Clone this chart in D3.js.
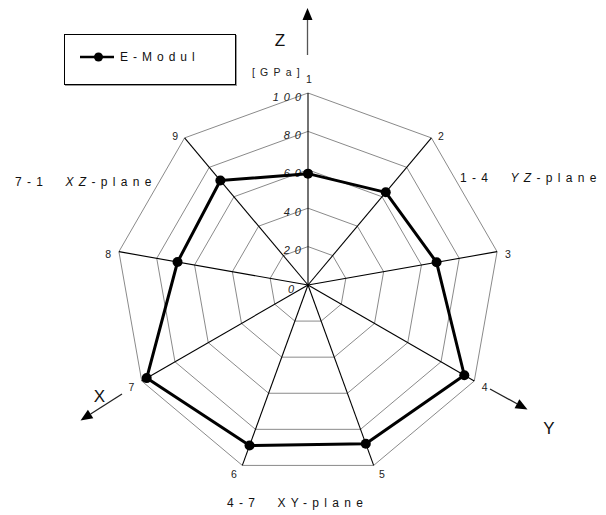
<!DOCTYPE html>
<html>
<head>
<meta charset="utf-8">
<script src="https://cdn.jsdelivr.net/npm/d3@7"></script>
<style>
  html, body { margin: 0; padding: 0; background: #fff; }
  svg { display: block; font-family: "Liberation Sans", Arial, sans-serif; }
</style>
</head>
<body>
<svg id="chart" width="606" height="515"></svg>
<script>
// Measurement directions (spokes) of the radar chart
const directions = ["1", "2", "3", "4", "5", "6", "7", "8", "9"];
// Young's modulus per direction, GPa
const eModul = [58, 63, 68, 94, 88, 89, 97, 69, 71];
// Radial tick values
const radialTicks = [0, 20, 40, 60, 80, 100];
const seriesName = "E-Modul";
const unitLabel = "[GPa]";

const svg = d3.select("#chart");
const cx = 308, cy = 285, R = 192;

const r = d3.scaleLinear().domain([0, 100]).range([0, R]);
const angle = d3.scaleLinear().domain([0, directions.length]).range([0, 2 * Math.PI]);

const pt = (i, v) => {
  const a = angle(i);
  return [cx + r(v) * Math.sin(a), cy - r(v) * Math.cos(a)];
};

// Grid rings
const ring = d3.line();
svg.append("g").selectAll("path")
  .data(radialTicks.filter(t => t > 0))
  .join("path")
  .attr("d", t => ring(directions.map((_, i) => pt(i, t))) + "Z")
  .attr("fill", "none")
  .attr("stroke", "#8a8a8a")
  .attr("stroke-width", 1);

// Spokes
svg.append("g").selectAll("line")
  .data(directions)
  .join("line")
  .attr("x1", cx).attr("y1", cy)
  .attr("x2", (d, i) => pt(i, 100)[0])
  .attr("y2", (d, i) => pt(i, 100)[1])
  .attr("stroke", "#000")
  .attr("stroke-width", 1.1);

// Radial tick labels
const tickSpacing = 5;
svg.append("g").selectAll("text")
  .data(radialTicks)
  .join("text")
  .attr("x", t => (t === 0 ? 294 : 301) + tickSpacing)
  .attr("y", t => cy - r(t) + 7.5)
  .attr("text-anchor", "end")
  .style("font-size", "11px")
  .style("font-style", "italic")
  .style("letter-spacing", tickSpacing + "px")
  .attr("fill", "#222")
  .text(t => t);

// Unit label
svg.append("text")
  .attr("x", 252).attr("y", 76)
  .style("font-size", "10.5px")
  .style("letter-spacing", "5.2px")
  .attr("fill", "#222")
  .text(unitLabel);

// Direction labels around the outer ring
svg.append("g").selectAll("text")
  .data(directions)
  .join("text")
  .each(function (d, i) {
    const a = angle(i);
    const [vx, vy] = pt(i, 100);
    const s = Math.sin(a), c = Math.cos(a);
    let x, y, anchor;
    if (i === 0) { x = vx + 1; y = vy - 10; anchor = "middle"; }
    else {
      const off = 4 + 4 * Math.abs(s);
      x = s > 0 ? vx + off : vx - off;
      anchor = s > 0 ? "start" : "end";
      y = vy + 7 - 6 * c;
    }
    d3.select(this).attr("x", x).attr("y", y).attr("text-anchor", anchor);
  })
  .style("font-size", "10.5px")
  .attr("fill", "#222")
  .text(d => d);

// Data series
const line = d3.line().curve(d3.curveLinearClosed);
svg.append("path")
  .attr("d", line(eModul.map((v, i) => pt(i, v))))
  .attr("fill", "none")
  .attr("stroke", "#000")
  .attr("stroke-width", 3)
  .attr("stroke-linejoin", "round");

svg.append("g").selectAll("circle")
  .data(eModul)
  .join("circle")
  .attr("cx", (v, i) => pt(i, v)[0])
  .attr("cy", (v, i) => pt(i, v)[1])
  .attr("r", 5)
  .attr("fill", "#000");

// Coordinate arrows (Z up along spoke 1, Y along spoke 4, X along spoke 7)
function arrow(x1, y1, x2, y2, color) {
  const dx = x2 - x1, dy = y2 - y1, L = Math.hypot(dx, dy);
  const ux = dx / L, uy = dy / L, hl = 12, hw = 5;
  const bx = x2 - ux * hl, by = y2 - uy * hl;
  svg.append("line")
    .attr("x1", x1).attr("y1", y1).attr("x2", bx).attr("y2", by)
    .attr("stroke", color).attr("stroke-width", 1.3);
  svg.append("path")
    .attr("d", `M${x2},${y2}L${bx - uy * hw},${by + ux * hw}L${bx + uy * hw},${by - ux * hw}Z`)
    .attr("fill", "#000");
}
arrow(307.5, 55, 307.5, 8, "#555");
arrow(490, 389, 527.5, 409.5, "#222");
arrow(122, 394, 80.5, 420.5, "#222");

const axisFont = "17px";
[["Z", 280, 46], ["Y", 549, 434], ["X", 99.5, 402]].forEach(([t, x, y]) => {
  svg.append("text").attr("x", x).attr("y", y)
    .attr("text-anchor", "middle")
    .style("font-size", axisFont)
    .attr("fill", "#111")
    .text(t);
});

// Plane captions
function caption(x, y, parts) {
  const t = svg.append("text").attr("x", x).attr("y", y)
    .style("font-size", "12px")
    .style("letter-spacing", "5.3px")
    .attr("fill", "#111")
    .attr("xml:space", "preserve")
    .style("white-space", "pre");
  parts.forEach(([s, it]) => t.append("tspan").style("font-style", it ? "italic" : "normal").text(s));
}
caption(460, 182, [["1-4  ", false], ["YZ", true], ["-plane", false]]);
caption(15, 186, [["7-1  ", false], ["XZ", true], ["-plane", false]]);
caption(227, 507, [["4-7  XY-plane", false]]);

// Legend
const lg = svg.append("g");
lg.append("rect").attr("x", 65.5).attr("y", 35.5).attr("width", 171).attr("height", 50)
  .attr("fill", "none").attr("stroke", "#999").attr("stroke-width", 1);
lg.append("rect").attr("x", 64.5).attr("y", 34.5).attr("width", 171).attr("height", 50)
  .attr("fill", "#fff").attr("stroke", "#000").attr("stroke-width", 1);
lg.append("line").attr("x1", 80).attr("x2", 114).attr("y1", 57).attr("y2", 57)
  .attr("stroke", "#000").attr("stroke-width", 2.5);
lg.append("circle").attr("cx", 98.5).attr("cy", 57).attr("r", 4.5).attr("fill", "#000");
lg.append("text").attr("x", 120).attr("y", 61)
  .style("font-size", "12px")
  .style("letter-spacing", "5px")
  .attr("fill", "#111")
  .text(seriesName);
</script>
</body>
</html>
